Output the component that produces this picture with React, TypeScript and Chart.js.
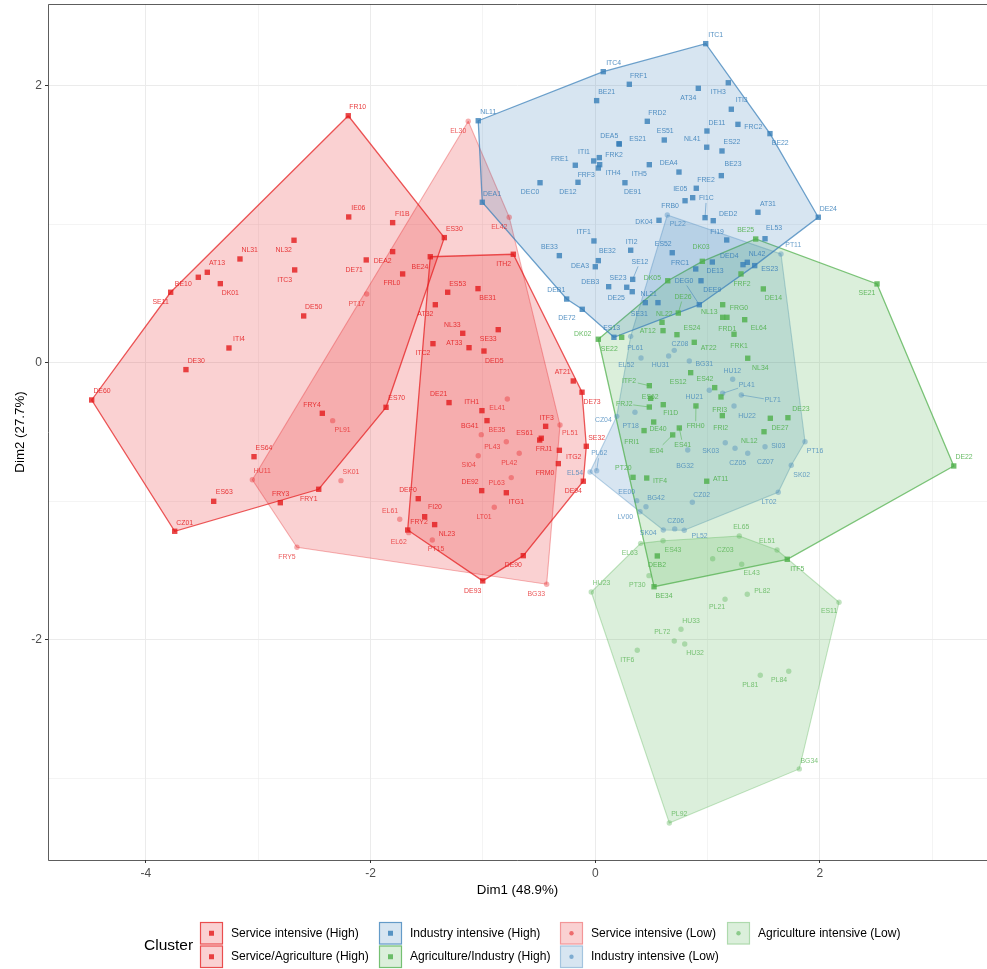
import React, { useEffect, useRef } from "react";
import { Chart, registerables } from "chart.js";

Chart.register(...registerables);

// ---------- Data (principal component scores) ----------
const serviceHighNames = ["FR10","IE06","FI1B","ES30","NL32","NL31","AT13","BE10","SE11","DK01","ITC3","DE71","DEA2","FRL0","DE50","ITI4","DE30","DE60","FRY4","ES70","ES64","ES63","CZ01","FRY3","FRY1"];
const serviceHighX = [-2.199,-2.195,-1.804,-1.344,-2.682,-3.163,-3.454,-3.534,-3.78,-3.338,-2.676,-2.039,-1.804,-1.715,-2.596,-3.261,-3.644,-4.483,-2.43,-1.863,-3.038,-3.397,-3.744,-2.804,-2.462];
const serviceHighY = [1.781,1.051,1.01,0.902,0.883,0.748,0.652,0.616,0.508,0.57,0.669,0.741,0.801,0.64,0.337,0.106,-0.05,-0.269,-0.365,-0.322,-0.678,-1,-1.216,-1.01,-0.913];
const serviceHighHull = ["FR10","ES30","ES70","FRY1","CZ01","DE60","SE11"];

const serviceAgriNames = ["BE24","ITH2","ES53","BE31","AT32","NL33","SE33","AT33","ITC2","DED5","AT21","DE73","DE21","ITH1","BG41","ITF3","ES61","FRJ1","ITG2","FRM0","SE32","DE94","DE92","ITG1","DEF0","FI20","NL23","FRY2","DE90","DE93"];
const serviceAgriX = [-1.469,-0.73,-1.314,-1.044,-1.424,-1.18,-0.864,-1.124,-1.445,-0.991,-0.196,-0.118,-1.302,-1.009,-0.964,-0.442,-0.495,-0.481,-0.32,-0.329,-0.08,-0.107,-1.011,-0.792,-1.576,-1.519,-1.43,-1.67,-0.641,-1.002];
const serviceAgriY = [0.764,0.782,0.508,0.534,0.418,0.212,0.238,0.108,0.137,0.084,-0.132,-0.213,-0.288,-0.346,-0.418,-0.459,-0.558,-0.545,-0.632,-0.728,-0.603,-0.855,-0.923,-0.938,-0.981,-1.111,-1.168,-1.207,-1.392,-1.574];
const serviceAgriHull = ["BE24","ITH2","DE73","SE32","DE94","DE90","DE93","FRY2"];

const serviceLowNames = ["EL30","EL42","PT17","PL91","HU11","SK01","FRY5","EL41","PL51","BE35","PL43","PL42","SI04","PL63","LT01","EL61","EL62","PT15","BG33"];
const serviceLowX = [-1.131,-0.766,-2.035,-2.338,-3.053,-2.264,-2.656,-0.783,-0.314,-1.015,-0.792,-0.677,-1.042,-0.748,-0.899,-1.741,-1.661,-1.451,-0.433];
const serviceLowY = [1.741,1.049,0.495,-0.418,-0.844,-0.851,-1.331,-0.262,-0.449,-0.519,-0.57,-0.653,-0.671,-0.829,-1.043,-1.129,-1.226,-1.279,-1.598];
const serviceLowHull = ["EL30","EL42","PL51","BG33","FRY5","HU11"];

const industryHighNames = ["ITC1","ITC4","FRF1","AT34","ITH3","ITI3","BE21","NL11","FRD2","FRC2","DE11","BE22","ES51","ES21","DEA5","NL41","ES22","ITI1","FRK2","FRF3","ITH4","FRE1","ITH5","DEA4","BE23","DEC0","DE12","DE91","FRE2","IE05","FRB0","FI1C","AT31","DED2","DEA1","DE24","DK04","FI19","EL53","ITF1","ITI2","ES52","BE33","BE32","DEA3","SE12","FRC1","DED4","DE13","NL42","ES23","DEE9","SE23","DEB3","DE25","DEB1","DE72","NL21","SE31","DEG0","ES13"];
const industryHighX = [0.983,0.071,0.303,0.917,1.184,1.211,0.012,-1.042,0.463,1.27,0.994,1.555,0.614,0.214,0.211,0.992,1.128,-0.014,0.036,0.039,0.027,-0.178,0.481,0.745,1.122,-0.492,-0.154,0.264,0.899,0.867,0.799,0.977,1.448,1.05,-1.006,1.985,0.567,1.17,1.511,-0.012,0.315,0.685,-0.32,0.027,0,0.333,0.894,1.315,1.042,1.353,1.419,0.941,0.28,0.119,0.329,-0.255,-0.116,0.558,0.445,0.926,0.166];
const industryHighY = [2.301,2.099,2.008,1.979,2.019,1.828,1.89,1.745,1.741,1.719,1.671,1.652,1.606,1.577,1.579,1.554,1.527,1.455,1.479,1.428,1.404,1.424,1.428,1.375,1.349,1.298,1.301,1.298,1.258,1.19,1.168,1.046,1.085,1.024,1.157,1.049,1.027,0.885,0.894,0.878,0.811,0.793,0.772,0.736,0.692,0.601,0.676,0.707,0.726,0.724,0.7,0.591,0.544,0.548,0.512,0.459,0.385,0.433,0.433,0.418,0.183];
const industryHighHull = ["NL11","ITC4","ITC1","BE22","DE24","ES23","DEG0","ES13","DE72","DEB1","DEA1"];

const agriIndustryNames = ["DK02","DK05","DK03","BE25","SE21","DE22","ITF5","BE34","FRF2","DE14","DE26","NL22","NL13","FRG0","FRD1","EL64","AT12","ES24","SE22","AT22","FRK1","NL34","ES12","ES42","ITF2","ES62","FI1D","FRJ2","FRI3","FRH0","FRI2","DE40","FRI1","DE23","DE27","NL12","ES41","IE04","PT20","ITF4","AT11","DEB2"];
const agriIndustryX = [0.027,0.645,0.953,1.428,2.508,3.191,1.709,0.523,1.297,1.496,0.739,0.594,1.134,1.172,1.134,1.33,0.603,0.727,0.235,0.881,1.235,1.357,0.849,1.063,0.481,0.493,0.605,0.481,1.119,0.896,1.131,0.52,0.434,1.715,1.558,1.502,0.748,0.689,0.336,0.458,0.992,0.552];
const agriIndustryY = [0.169,0.591,0.731,0.892,0.568,-0.745,-1.418,-1.616,0.64,0.532,0.358,0.291,0.418,0.327,0.327,0.31,0.231,0.202,0.183,0.147,0.205,0.032,-0.072,-0.18,-0.166,-0.257,-0.303,-0.32,-0.247,-0.312,-0.382,-0.428,-0.49,-0.397,-0.401,-0.498,-0.471,-0.521,-0.827,-0.832,-0.855,-1.394];
const agriIndustryHull = ["DK02","DK05","DK03","BE25","SE21","DE22","ITF5","BE34"];

const industryLowNames = ["PL22","PT11","PT16","SK02","LT02","PL52","CZ06","SK04","LV00","EE00","BG42","CZ02","EL54","PL62","CZ04","EL52","PL61","CZ08","HU31","BG31","HU12","HU21","PL41","PL71","PT18","HU22","SK03","CZ05","CZ07","SI03","BG32"];
const industryLowX = [0.641,1.653,1.867,1.745,1.629,0.792,0.707,0.605,0.398,0.369,0.451,0.864,-0.047,0.012,0.191,0.315,0.407,0.703,0.653,0.837,1.223,1.015,1.134,1.3,0.353,1.235,1.157,1.244,1.357,1.511,0.823];
const industryLowY = [1.065,0.784,-0.57,-0.74,-0.935,-1.209,-1.199,-1.207,-1.075,-0.995,-1.039,-1.007,-0.788,-0.779,-0.387,0.19,0.034,0.089,0.048,0.012,-0.12,-0.199,-0.221,-0.233,-0.358,-0.312,-0.577,-0.617,-0.653,-0.606,-0.63];
const industryLowHull = ["PL22","PT11","PT16","SK02","LT02","PL52","SK04","LV00","EL54","CZ04","EL52"];

const agriLowNames = ["HU23","EL63","ES43","EL65","EL51","ES11","BG34","PL92","CZ03","EL43","PT30","PL21","PL82","HU33","PL72","HU32","ITF6","PL81","PL84"];
const agriLowX = [-0.036,0.404,0.603,1.282,1.618,2.17,1.816,0.659,1.045,1.303,0.478,1.155,1.353,0.763,0.703,0.796,0.374,1.469,1.722];
const agriLowY = [-1.654,-1.303,-1.284,-1.25,-1.351,-1.728,-2.93,-3.32,-1.414,-1.454,-1.536,-1.706,-1.67,-1.923,-2.007,-2.029,-2.074,-2.255,-2.226];
const agriLowHull = ["HU23","EL63","ES43","EL65","EL51","ES11","BG34","PL92"];

const xAxisTitle = "Dim1 (48.9%)";
const yAxisTitle = "Dim2 (27.7%)";
const legendTitle = "Cluster";

// ---------- Styling and layout ----------
const RED = "228,26,28";
const BLUE = "55,126,184";
const GREEN = "77,175,74";
const FONT = '"Liberation Sans", Arial, sans-serif';

// Where each repelled text label sits relative to its point, in pixels.
const labelOffsets: Record<string, [number, number]> = {
  FR10:[9.4,-9],IE06:[9.6,-8.7],FI1B:[9.6,-8.7],ES30:[10,-9],NL32:[-10.3,9.7],NL31:[9.7,-8.7],AT13:[9.7,-9],BE10:[-15,6.4],SE11:[-10,9.7],DK01:[10,9.6],ITC3:[-10,9.7],DE71:[-12,10.3],DEA2:[-10,9.6],FRL0:[-10.7,9.3],DE50:[10,-9],ITI4:[10,-8.7],DE30:[10.3,-8.4],DE60:[10.3,-9.3],FRY4:[-10.3,-8.6],ES70:[10.7,-9],ES64:[10,-9],ES63:[10.6,-9],CZ01:[10,-8.6],FRY3:[0.4,-8.7],FRY1:[-10,9.4],
  BE24:[-10.3,10],ITH2:[-9.6,9.4],ES53:[10,-8.3],BE31:[9.7,9],AT32:[-10,9.6],NL33:[-10.4,-8.6],SE33:[-10,9.6],AT33:[-14.7,-4.7],ITC2:[-10,9.6],DED5:[10.3,9.7],AT21:[-10.6,-8.7],DE73:[10,9.4],DE21:[-10.3,-8.4],ITH1:[-10.3,-8.7],BG41:[-17.3,5.3],ITF3:[1,-8.6],ES61:[-15,-7],FRJ1:[2.7,11],ITG2:[14.4,7],FRM0:[-13.3,9.6],SE32:[10.4,-8.6],DE94:[-10,10],DE92:[-11.7,-9],ITG1:[10,9.6],DEF0:[-10.3,-9],FI20:[10.3,-10],NL23:[12.3,9.3],FRY2:[11.3,-8],DE90:[-10,9.6],DE93:[-10,9.7],
  EL30:[-10,9.4],EL42:[-10,9.4],PT17:[-10,9.7],PL91:[10,9.3],HU11:[10,-9],SK01:[10,-8.7],FRY5:[-10,9.7],EL41:[-10,9.3],PL51:[10,8.3],BE35:[15.7,-4.4],PL43:[-14,5],PL42:[-10,10],SI04:[-9.6,9.3],PL63:[-14.6,5.6],LT01:[-10.3,9.4],EL61:[-9.7,-8.6],EL62:[-10,9.3],PT15:[3.7,9.3],BG33:[-10.4,9.4],
  ITC1:[10,-9],ITC4:[10.4,-8.4],FRF1:[9.4,-8.6],AT34:[-10,10],ITH3:[-10,9.3],ITI3:[10.4,-9],BE21:[10,-8.4],NL11:[10,-8.7],FRD2:[10,-8.6],FRC2:[15.3,2.4],DE11:[10,-8.3],BE22:[10.3,9.6],ES51:[1,-8.7],ES21:[18.4,-5.3],DEA5:[-9.7,-8],NL41:[-14.4,-8],ES22:[10,-8.7],ITI1:[-9.7,-8.7],FRK2:[14.7,-3],FRF3:[-13.4,10.6],ITH4:[14.7,5],FRE1:[-15.6,-6.6],ITH5:[-10,9.6],DEA4:[-10.3,-8.7],BE23:[11.7,-12],DEC0:[-10,9.6],DE12:[-10,9.4],DE91:[7.7,9.6],FRE2:[9.7,-8.6],IE05:[-12.4,-8.7],FRB0:[-15,5],FI1C:[1.3,-19.7],AT31:[10,-8.6],DED2:[15,-7],DEA1:[9.7,-8.6],DE24:[10,-8.6],DK04:[-15,2],FI19:[-9.7,-8.3],EL53:[9,-10.4],ITF1:[-10.3,-8.7],ITI2:[1,-8.6],ES52:[-9,-8.4],BE33:[-10,-8.7],BE32:[9,-9.7],DEA3:[-15.3,-1],SE12:[7.3,-17.6],FRC1:[-15.7,-6.3],DED4:[-13.7,-9],DE13:[2.7,9.3],NL42:[9.7,-8.3],ES23:[15,3.6],DEE9:[11.3,9.3],SE23:[-8.7,-9.3],DEB3:[-18.4,-4.4],DE25:[-16,6],DEB1:[-10.4,-9],DE72:[-15.3,8.4],NL21:[-9.3,-8.7],SE31:[-6,11.3],DEG0:[-15.3,-23.4],ES13:[-2.3,-9.3],
  DK02:[-15.6,-5],DK05:[-15.4,-2.4],DK03:[-1.3,-14.3],BE25:[-10,-8.7],SE21:[-10,9],DE22:[10.3,-8.7],ITF5:[10,9.7],BE34:[10,9.6],FRF2:[1,9.7],DE14:[10,9.3],DE26:[4.7,-16.3],NL22:[2.3,-8.6],NL13:[-13.4,7.3],FRG0:[12,-9],FRD1:[4.6,11.4],EL64:[14,8.6],AT12:[-15.3,0.6],ES24:[15,-6.4],SE22:[-12.4,11.7],AT22:[14.4,6],FRK1:[5,11.4],NL34:[12.6,10],ES12:[-12.4,9.6],ES42:[-9.7,-8.4],ITF2:[-20.3,-4.7],ES62:[-0.4,-1.6],FI1D:[7.4,8],FRJ2:[-25,-3.3],FRI3:[-1.3,12.7],FRH0:[-0.3,20.3],FRI2:[-1.6,12],DE40:[4.3,7],FRI1:[-12.3,11.6],DE23:[13,-8.4],DE27:[9.7,9.4],NL12:[-14.7,9],ES41:[3.4,16.7],IE04:[-16.4,16.3],PT20:[-9.7,-9],ITF4:[13.3,3.3],AT11:[14,-2],DEB2:[-0.3,9.3],
  PL22:[10.4,9.3],PT11:[12.3,-8.7],PT16:[10,9.3],SK02:[10.4,9.4],LT02:[-9.3,10],PL52:[15.4,5.7],CZ06:[1,-8.3],SK04:[-15,2.7],LV00:[-14.7,5.6],EE00:[-10,-9],BG42:[10,-9],CZ02:[9.4,-7],EL54:[-15,1],PL62:[2.6,-17.4],CZ04:[-13.4,4],EL52:[-4.4,29],PL61:[-5.7,-10.3],CZ08:[5.7,-6],HU31:[-8,9.3],BG31:[15,3],HU12:[-0.4,-8.6],HU21:[-15,6.4],PL41:[24,-8],PL71:[31.4,5.3],PT18:[-4.3,14],HU22:[13,10.3],SK03:[-14.6,8],CZ05:[2.7,14.7],CZ07:[17.6,8.7],SI03:[13.3,-0.7],BG32:[-2.7,15.7],
  HU23:[10.4,-9],EL63:[-11,9.4],ES43:[10,9.6],EL65:[2,-8.7],EL51:[-10,-8.7],ES11:[-10,9],BG34:[10,-8.3],PL92:[10,-8.7],CZ03:[12.6,-8.4],EL43:[10,9],PT30:[-11.7,9.3],PL21:[-8,7.4],PL82:[15,-3.3],HU33:[10,-8],PL72:[-12,-9],HU32:[10.3,9.3],ITF6:[-10,9.4],PL81:[-10,9.4],PL84:[-9.7,9],
};
// Labels joined to their point by a short segment.
const connected = ["SE12","FI1C","DEG0","DE26","ITF2","FRJ2","PL41","PL71","FRH0","ES41","IE04","PL62"];

type Cluster = { label: string; names: string[]; xs: number[]; ys: number[]; hull: string[]; rgb: string; high: boolean; key: [number, number] };
const clusters: Cluster[] = [
  { label: "Service intensive (High)", names: serviceHighNames, xs: serviceHighX, ys: serviceHighY, hull: serviceHighHull, rgb: RED, high: true, key: [200, 922] },
  { label: "Service/Agriculture (High)", names: serviceAgriNames, xs: serviceAgriX, ys: serviceAgriY, hull: serviceAgriHull, rgb: RED, high: true, key: [200, 945.5] },
  { label: "Industry intensive (High)", names: industryHighNames, xs: industryHighX, ys: industryHighY, hull: industryHighHull, rgb: BLUE, high: true, key: [379, 922] },
  { label: "Agriculture/Industry (High)", names: agriIndustryNames, xs: agriIndustryX, ys: agriIndustryY, hull: agriIndustryHull, rgb: GREEN, high: true, key: [379, 945.5] },
  { label: "Service intensive (Low)", names: serviceLowNames, xs: serviceLowX, ys: serviceLowY, hull: serviceLowHull, rgb: RED, high: false, key: [560, 922] },
  { label: "Industry intensive (Low)", names: industryLowNames, xs: industryLowX, ys: industryLowY, hull: industryLowHull, rgb: BLUE, high: false, key: [560, 945.5] },
  { label: "Agriculture intensive (Low)", names: agriLowNames, xs: agriLowX, ys: agriLowY, hull: agriLowHull, rgb: GREEN, high: false, key: [727, 922] },
];

const rgba = (rgb: string, a: number) => `rgba(${rgb},${a})`;
const PT_ALPHA_HIGH = 0.8, PT_ALPHA_LOW = 0.35;
const LINE_ALPHA_HIGH = 0.72, LINE_ALPHA_LOW = 0.32;
const TEXT_ALPHA_HIGH = 0.85, TEXT_ALPHA_LOW = 0.72;

function buildDatasets() {
  const sets: any[] = [];
  clusters.forEach((c) => {
    sets.push({
      label: c.label,
      data: c.names.map((_, i) => ({ x: c.xs[i], y: c.ys[i] })),
      showLine: false,
      pointStyle: c.high ? "rect" : "circle",
      pointRadius: c.high ? 3.8 : 2.7,
      pointBorderWidth: 0,
      pointBackgroundColor: rgba(c.rgb, c.high ? PT_ALPHA_HIGH : PT_ALPHA_LOW),
    });
  });
  clusters.forEach((c) => {
    const loop = [...c.hull, c.hull[0]].map((n) => {
      const i = c.names.indexOf(n);
      return { x: c.xs[i], y: c.ys[i] };
    });
    sets.push({
      label: c.label + " hull",
      data: loop,
      showLine: true,
      tension: 0,
      fill: "shape",
      backgroundColor: rgba(c.rgb, 0.2),
      borderColor: rgba(c.rgb, c.high ? LINE_ALPHA_HIGH : LINE_ALPHA_LOW),
      borderWidth: c.high ? 1.3 : 1.1,
      pointRadius: 0,
    });
  });
  return sets;
}

const decoration = {
  id: "decoration",
  afterDatasetsDraw(chart: any) {
    const { ctx, scales, chartArea } = chart;
    const sx = scales.x, sy = scales.y;
    ctx.save();
    // point labels and connectors
    ctx.textAlign = "center";
    ctx.textBaseline = "middle";
    ctx.font = `6.9px ${FONT}`;
    clusters.forEach((c) => {
      const textColor = rgba(c.rgb, c.high ? TEXT_ALPHA_HIGH : TEXT_ALPHA_LOW);
      c.names.forEach((n, i) => {
        const [dx, dy] = labelOffsets[n] || [0, -8];
        const px = sx.getPixelForValue(c.xs[i]);
        const py = sy.getPixelForValue(c.ys[i]);
        if (connected.includes(n)) {
          const len = Math.hypot(dx, dy);
          const trim = Math.abs(dy) > Math.abs(dx) ? 5 : 9;
          ctx.strokeStyle = textColor;
          ctx.lineWidth = 0.6;
          ctx.beginPath();
          ctx.moveTo(px, py);
          ctx.lineTo(px + (dx * (len - trim)) / len, py + (dy * (len - trim)) / len);
          ctx.stroke();
        }
        ctx.fillStyle = textColor;
        ctx.fillText(n, px + dx, py + dy);
      });
    });
    // panel border
    ctx.strokeStyle = "#333333";
    ctx.lineWidth = 0.8;
    ctx.beginPath();
    ctx.moveTo(chartArea.right, chartArea.top + 0.5);
    ctx.lineTo(chartArea.left + 0.5, chartArea.top + 0.5);
    ctx.lineTo(chartArea.left + 0.5, chartArea.bottom + 0.5);
    ctx.lineTo(chartArea.right, chartArea.bottom + 0.5);
    ctx.stroke();
    // legend
    ctx.textAlign = "left";
    ctx.fillStyle = "#000000";
    ctx.font = `15.5px ${FONT}`;
    ctx.fillText(legendTitle, 144, 946);
    clusters.forEach((c) => {
      const [kx, ky] = c.key;
      const w = 23, h = 22.5;
      ctx.fillStyle = rgba(c.rgb, 0.2);
      ctx.fillRect(kx, ky, w, h);
      ctx.strokeStyle = rgba(c.rgb, c.high ? LINE_ALPHA_HIGH : LINE_ALPHA_LOW);
      ctx.lineWidth = 1.2;
      ctx.strokeRect(kx + 0.5, ky + 0.5, w - 1, h - 1);
      ctx.fillStyle = rgba(c.rgb, c.high ? PT_ALPHA_HIGH : PT_ALPHA_LOW + 0.2);
      if (c.high) ctx.fillRect(kx + w / 2 - 2.5, ky + h / 2 - 2.5, 5, 5);
      else {
        ctx.beginPath();
        ctx.arc(kx + w / 2, ky + h / 2, 2.2, 0, Math.PI * 2);
        ctx.fill();
      }
      ctx.fillStyle = "#000000";
      ctx.font = `12.1px ${FONT}`;
      ctx.fillText(c.label, kx + w + 8, ky + h / 2);
    });
    ctx.restore();
  },
};

export default function App() {
  const ref = useRef<HTMLCanvasElement>(null);
  useEffect(() => {
    if (!ref.current) return;
    const gridWidth = (ctx: any) => (Math.abs(ctx.tick?.value) % 2 === 0 ? 1 : 0.55);
    const tickColor = (ctx: any) => (Math.abs(ctx.tick?.value) % 2 === 0 ? "#333333" : "rgba(0,0,0,0)");
    const chart = new Chart(ref.current, {
      type: "scatter",
      data: { datasets: buildDatasets() },
      plugins: [decoration],
      options: {
        animation: false,
        responsive: false,
        layout: { autoPadding: false, padding: { top: 4, right: 0, bottom: 70, left: 0 } },
        plugins: { legend: { display: false }, tooltip: { enabled: false } },
        scales: {
          x: {
            type: "linear",
            min: -4.872,
            max: 3.487,
            afterFit: (s: any) => { s.height = 39; s.paddingLeft = 0; s.paddingRight = 0; },
            grid: { color: "#EBEBEB", lineWidth: gridWidth, tickColor, tickLength: 3, tickWidth: 1 },
            border: { display: false },
            ticks: {
              stepSize: 1,
              includeBounds: false,
              autoSkip: false,
              maxRotation: 0,
              padding: 3,
              color: "#4D4D4D",
              font: { family: FONT, size: 12 },
              callback: (v: any) => (Math.abs(v) % 2 === 0 ? String(v) : ""),
            },
            title: { display: true, text: xAxisTitle, color: "#000000", font: { family: FONT, size: 13.3 }, padding: { top: 0, bottom: 1 } },
          },
          y: {
            type: "linear",
            min: -3.587,
            max: 2.587,
            afterFit: (s: any) => { s.width = 48; s.paddingTop = 0; s.paddingBottom = 0; },
            grid: { color: "#EBEBEB", lineWidth: gridWidth, tickColor, tickLength: 3, tickWidth: 1 },
            border: { display: false },
            ticks: {
              stepSize: 1,
              includeBounds: false,
              autoSkip: false,
              padding: 3,
              color: "#4D4D4D",
              font: { family: FONT, size: 12 },
              callback: (v: any) => (Math.abs(v) % 2 === 0 ? String(v) : ""),
            },
            title: { display: true, text: yAxisTitle, color: "#000000", font: { family: FONT, size: 13.3 }, padding: { top: 12, bottom: 0 } },
          },
        },
      },
    } as any);
    return () => chart.destroy();
  }, []);
  return (
    <div style={{ position: "absolute", left: 0, top: 0, width: 987, height: 969, background: "#fff" }}>
      <canvas ref={ref} width={987} height={969} style={{ display: "block" }} />
    </div>
  );
}
